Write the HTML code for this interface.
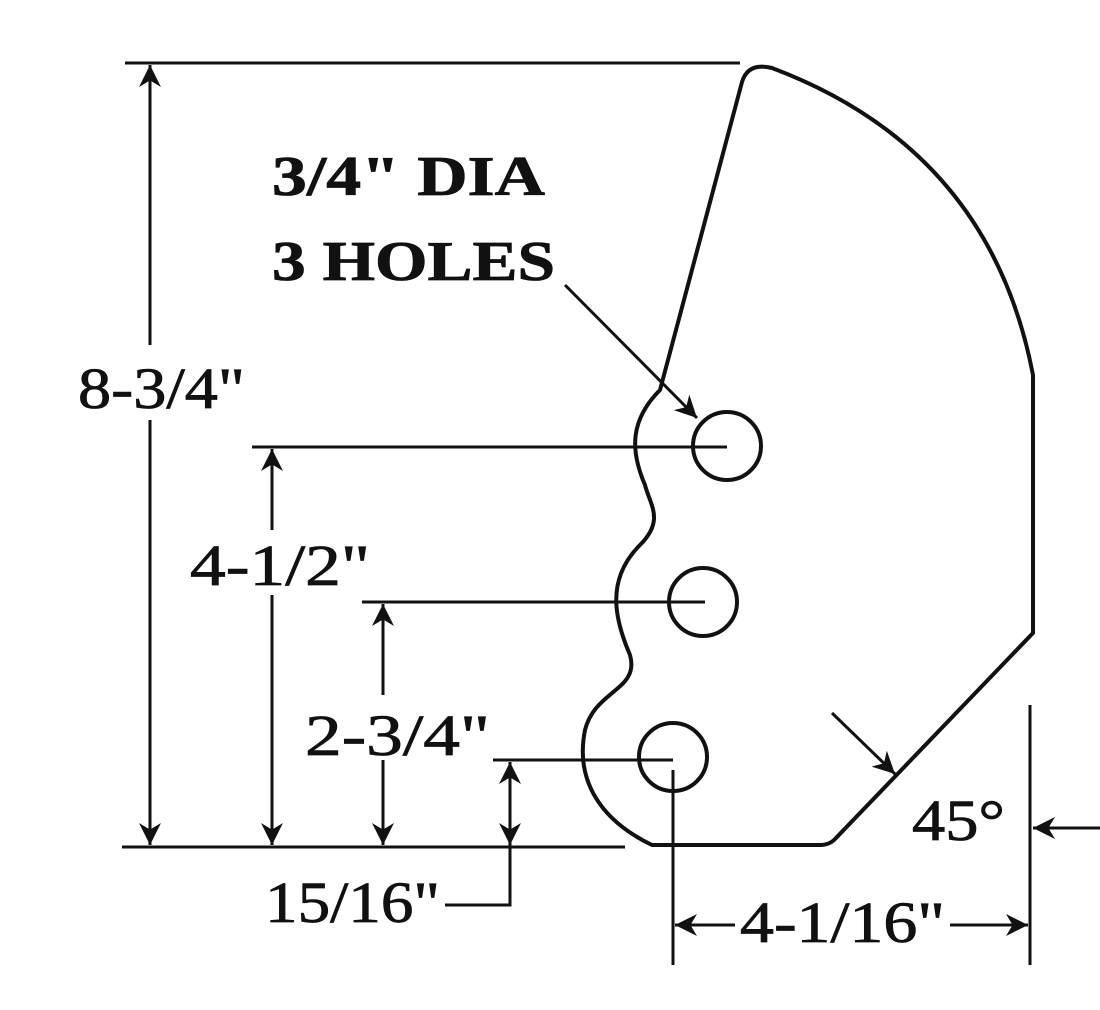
<!DOCTYPE html>
<html><head><style>body{margin:0;background:#fff}svg{display:block}text{font-family:"Liberation Serif",serif;fill:#111;stroke:#111;stroke-width:0.8}</style></head><body>
<svg width="1100" height="1010" viewBox="0 0 1100 1010" xmlns="http://www.w3.org/2000/svg">
<defs>
<marker id="b" viewBox="0 0 10 10" refX="10" refY="5" markerWidth="26" markerHeight="22" orient="auto-start-reverse" markerUnits="userSpaceOnUse"><path d="M0,0 L10,5 L0,10 L3,5z" fill="#111"/></marker></defs>
<g fill="none" stroke="#111" stroke-width="4">
<path d="M660,390 L742,82 Q748,62 772,68 Q990,150 1033,375 L1033,633 L836,838 Q830,845 820,845 L652,845 C600,820 575,780 585,730 C595,690 640,690 630,655 C615,620 605,580 640,545 C665,520 650,505 645,485 C630,450 630,420 660,390 Z"/>
<circle cx="727" cy="446" r="34"/><circle cx="703" cy="602" r="34"/><circle cx="673" cy="757" r="34"/>
<g stroke-width="3">
<line x1="125" y1="63" x2="740" y2="63"/><line x1="122" y1="847" x2="625" y2="847"/>
<line x1="150" y1="345" x2="150" y2="65" marker-end="url(#b)"/><line x1="150" y1="420" x2="150" y2="845" marker-end="url(#b)"/>
<line x1="252" y1="447" x2="727" y2="447"/>
<line x1="272" y1="530" x2="272" y2="449" marker-end="url(#b)"/><line x1="272" y1="595" x2="272" y2="845" marker-end="url(#b)"/>
<line x1="362" y1="602" x2="705" y2="602"/>
<line x1="383" y1="695" x2="383" y2="604" marker-end="url(#b)"/><line x1="383" y1="760" x2="383" y2="845" marker-end="url(#b)"/>
<line x1="493" y1="760" x2="673" y2="760"/>
<line x1="510" y1="762" x2="510" y2="845" marker-start="url(#b)" marker-end="url(#b)"/>
<polyline points="510,845 510,905 445,905"/>
<line x1="673" y1="770" x2="673" y2="965"/><line x1="1030" y1="705" x2="1030" y2="965"/>
<line x1="735" y1="925" x2="675" y2="925" marker-end="url(#b)"/><line x1="950" y1="925" x2="1028" y2="925" marker-end="url(#b)"/>
<line x1="1100" y1="828" x2="1033" y2="828" marker-end="url(#b)"/>
<line x1="832" y1="713" x2="895" y2="774" marker-end="url(#b)"/>
<line x1="565" y1="285" x2="697" y2="418" marker-end="url(#b)"/>
</g></g>
<g font-size="58">
<text x="272" y="195" font-size="56" font-weight="bold" textLength="273" lengthAdjust="spacingAndGlyphs">3/4" DIA</text>
<text x="272" y="280" font-size="56" font-weight="bold" textLength="283" lengthAdjust="spacingAndGlyphs">3 HOLES</text>
<text x="78" y="408" textLength="167" lengthAdjust="spacingAndGlyphs">8-3/4"</text>
<text x="190" y="585" textLength="180" lengthAdjust="spacingAndGlyphs">4-1/2"</text>
<text x="305" y="755" textLength="185" lengthAdjust="spacingAndGlyphs">2-3/4"</text>
<text x="265" y="922" textLength="175" lengthAdjust="spacingAndGlyphs">15/16"</text>
<text x="740" y="942" textLength="205" lengthAdjust="spacingAndGlyphs">4-1/16"</text>
<text x="912" y="840" textLength="93" lengthAdjust="spacingAndGlyphs">45°</text>
</g>
</svg></body></html>
